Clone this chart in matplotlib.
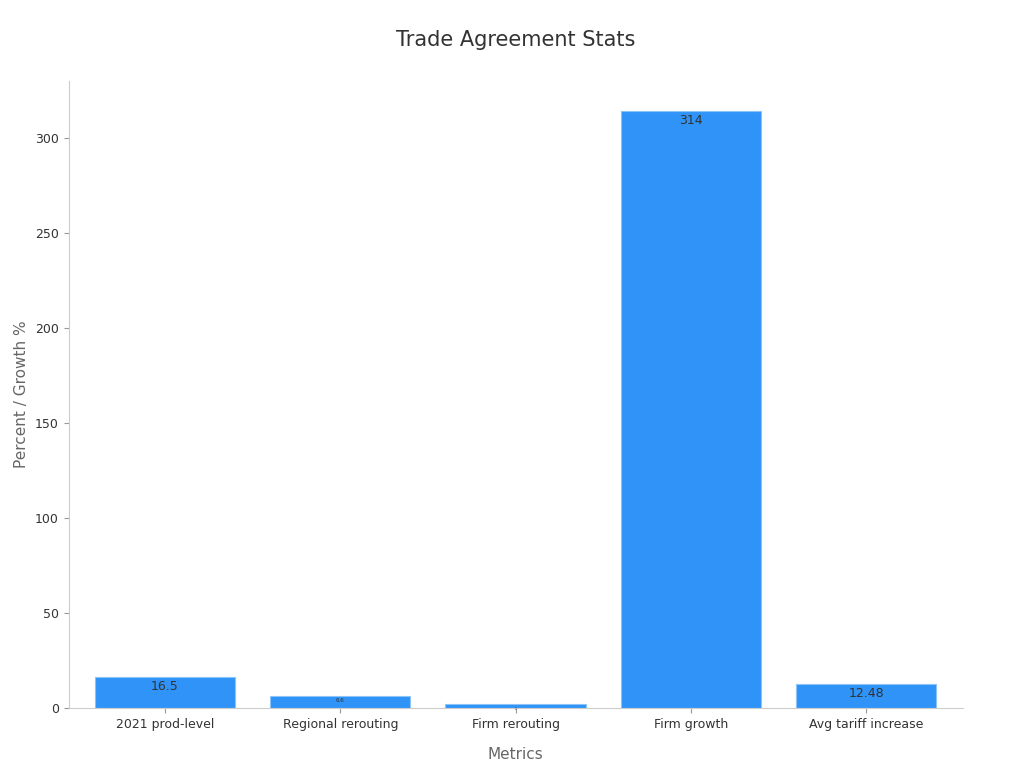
import matplotlib.pyplot as plt

categories = ["2021 prod-level", "Regional rerouting", "Firm rerouting", "Firm growth", "Avg tariff increase"]
values = [16.5, 6.6, 2.0, 314, 12.48]
labels = ["16.5", "6.6", "2", "314", "12.48"]
label_sizes = [9, 4, 2, 9, 9]

fig, ax = plt.subplots(figsize=(10.24, 7.68), dpi=100)
fig.subplots_adjust(left=0.067, right=0.94, top=0.895, bottom=0.078)
bars = ax.bar(categories, values, width=0.8, color="#2f93f8", edgecolor="#8cc4fa", linewidth=0.8)
for b, lab, fs in zip(bars, labels, label_sizes):
    h = b.get_height()
    ax.annotate(lab, (b.get_x() + b.get_width() / 2, h), xytext=(0, -2), textcoords="offset points",
                ha="center", va="top", fontsize=fs, color="#333333")
ax.set_ylim(0, 330)
ax.set_xlim(-0.55, 4.55)
ax.set_title("Trade Agreement Stats", fontsize=15, color="#333333", pad=25)
ax.set_xlabel("Metrics", fontsize=11, color="#666666", labelpad=12)
ax.set_ylabel("Percent / Growth %", fontsize=11, color="#666666")
for s in ["top", "right"]:
    ax.spines[s].set_visible(False)
for s in ["left", "bottom"]:
    ax.spines[s].set_color("#cccccc")
ax.tick_params(colors="#333333", labelsize=9)
ax.tick_params(axis="both", color="#999999")
fig.savefig("out.png")
